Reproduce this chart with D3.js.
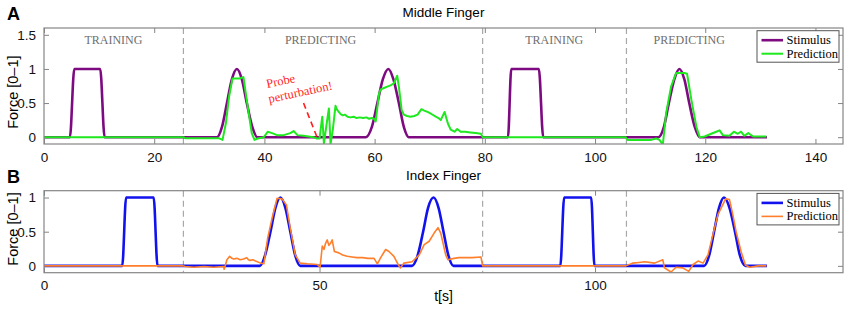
<!DOCTYPE html>
<html>
<head>
<meta charset="utf-8">
<script src="https://cdn.jsdelivr.net/npm/d3@7"></script>
<style>
  html, body { margin: 0; padding: 0; background: #fff; }
  svg { display: block; }
</style>
</head>
<body>
<svg id="chart" width="850" height="311"></svg>
<script>
// time range and phase markers (seconds)
const timeDomain = [0, 145];
const phaseBounds = [25.3, 79.6, 105.7];
const phaseNames = ["TRAINING", "PREDICTING", "TRAINING", "PREDICTING"];
const phaseCenters = [12.6, 50.2, 92.6, 117.1];

const topXTicks = [0, 20, 40, 60, 80, 100, 120, 140];
const topYTicks = [0, 0.5, 1, 1.5];
const bottomXTicks = [0, 50, 100];
const bottomYTicks = [0, 0.5, 1];

// [t, force]
const middleStimulus = [[0,0],[4.7,0],[5.5,1],[10.2,1],[11,0],
  [31.4,0],[32.3,0.15],[33.2,0.5],[34.1,0.85],[35,1],[35.9,0.85],[36.8,0.5],[37.8,0.15],[38.7,0],
  [58.4,0],[59.5,0.15],[60.5,0.5],[61.5,0.85],[62.5,1],[63.4,0.85],[64.4,0.5],[65.3,0.15],[66.2,0],
  [84.2,0],[84.8,1],[89.8,1],[90.6,0],
  [111.5,0],[112.5,0.15],[113.4,0.5],[114.4,0.85],[115.3,1],[116.2,0.85],[117.1,0.5],[118.1,0.15],[119,0],[131.2,0]];

const middlePrediction = [[0,0],[25.3,0],[25.6,-0.015],[31.7,-0.015],[32.4,-0.04],[33.0,0.2],[33.6,0.6],
  [34.2,0.86],[35.5,0.86],[36.2,0.88],[36.8,0.54],[37.7,0.06],[38.2,-0.04],[38.8,-0.02],[39.9,0],
  [40.6,0.08],[41.4,0.06],[42.3,0.03],[43.5,0.03],[44.7,0.06],[45.3,0.09],[46.0,0.03],[47.1,0.02],
  [48.9,0],[49.5,-0.02],[50.0,-0.02],[50.5,0.3],[50.8,-0.09],[51.3,0.2],[51.7,0.42],[52.0,-0.1],
  [52.4,0.1],[52.9,0.46],[53.2,0.4],[53.8,0.34],[54.2,0.32],[54.6,0.33],[55.1,0.3],[55.6,0.29],
  [56.2,0.3],[56.7,0.28],[57.3,0.29],[57.9,0.28],[58.5,0.29],[59.0,0.27],[59.5,0.28],[59.9,0.27],
  [60.2,0.23],[60.8,0.64],[61.1,0.7],[61.7,0.72],[62.3,0.74],[62.9,0.76],[63.5,0.79],[64.1,0.9],
  [64.4,0.74],[64.9,0.4],[65.3,0.33],[65.9,0.31],[66.5,0.3],[67.2,0.31],[67.8,0.33],[68.5,0.41],
  [69.0,0.39],[69.6,0.37],[70.3,0.34],[71.1,0.3],[71.6,0.28],[72.0,0.25],[72.7,0.37],[73.3,0.2],
  [73.8,0.11],[74.5,0.08],[75.0,0.12],[75.6,0.08],[76.4,0.08],[77.4,0.07],[78.3,0.06],[79.3,0.05],
  [79.6,0],[105.6,0],[105.9,-0.04],[110.2,-0.04],[111.1,-0.02],[111.7,-0.04],[112.3,-0.11],
  [112.9,0.35],[113.8,0.74],[114.7,0.94],[116.2,0.94],[116.7,0.93],[117.5,0.54],[118.4,0.15],[119.0,0],
  [119.9,0.01],[121.1,0.05],[122.0,0.08],[122.6,0.1],[123.2,0.03],[124.4,0.02],[125.2,0.08],[125.9,0.05],
  [126.5,0.08],[127.1,0.02],[127.8,0.06],[128.7,0.01],[131.1,0.01]];

const indexStimulus = [[0,0],[14.2,0],[14.9,1],[19.9,1],[20.6,0],
  [39.2,0],[40.1,0.15],[41.1,0.5],[42,0.85],[42.9,1],[43.8,0.85],[44.7,0.5],[45.6,0.15],[46.5,0],
  [66.8,0],[67.8,0.15],[68.8,0.5],[69.7,0.85],[70.7,1],[71.6,0.85],[72.5,0.5],[73.4,0.15],[74.3,0],
  [93.7,0],[94.4,1],[99.3,1],[99.9,0],
  [119.8,0],[120.7,0.15],[121.6,0.5],[122.5,0.85],[123.4,1],[124.4,0.85],[125.4,0.5],[126.3,0.15],[127.3,0],[131.2,0]];

const indexPrediction = [[0,0],[25.3,0],[25.6,-0.01],[27.2,-0.02],[29,-0.01],[30.8,-0.02],[32.6,-0.01],
  [32.7,-0.05],[33.2,0.09],[33.7,0.14],[34.1,0.11],[34.4,0.1],[35.0,0.11],[35.6,0.09],[36.2,0.1],
  [36.8,0.12],[37.1,0.09],[37.4,0.08],[37.9,0.09],[38.4,0.07],[39.3,0.04],[39.9,0.03],[40.6,0.41],
  [41.4,0.7],[42.3,0.99],[43.2,0.98],[44.0,0.89],[44.7,0.55],[45.6,0.16],[46.5,0.04],[47.8,0.03],
  [49.6,0.02],[50.1,-0.02],[50.5,0.29],[50.8,0.24],[51.1,0.33],[51.4,0.38],[51.7,0.3],[52.0,0.33],
  [52.3,0.38],[52.7,0.21],[53.5,0.19],[54.2,0.16],[55.0,0.14],[55.9,0.13],[56.8,0.12],[57.8,0.12],
  [58.8,0.11],[59.9,0.11],[60.5,0.03],[61.1,0.12],[62.0,0.24],[62.6,0.21],[63.5,0.14],[64.4,0],
  [64.7,-0.03],[65.3,0.04],[66.8,0.06],[68.1,0.16],[69.0,0.31],[69.9,0.36],[70.8,0.48],[71.5,0.56],
  [72.0,0.48],[72.9,0.16],[73.3,0.09],[74.4,0.11],[75.3,0.12],[76.2,0.12],[77.7,0.12],[79.3,0.13],
  [79.6,0],[105.6,0],[106.8,0.04],[108.0,0.05],[109.0,0.06],[110.8,0.04],[112.3,0.09],[112.6,-0.03],
  [113.8,-0.09],[114.7,-0.02],[115.9,-0.03],[117.0,-0.08],[117.8,0.02],[118.7,0.07],[119.6,0.04],
  [120.5,0.16],[121.4,0.46],[122.3,0.75],[123.7,0.98],[124.4,0.97],[125.0,0.75],[125.6,0.5],
  [126.5,0.21],[127.3,0.01],[128.1,-0.02],[129.6,0],[131.1,0]];

const sansFont = "'Liberation Sans', Arial, Helvetica, sans-serif";
const serifFont = "'Liberation Serif', 'Times New Roman', serif";
const boxColor = "#858585";

const panels = [
  {
    id: "top", letter: "A", title: "Middle Finger",
    top: 28, bottom: 144, yDomain: [-0.1, 1.6],
    xTicks: topXTicks, yTicks: topYTicks, labelCenter: 0.66,
    stim: middleStimulus, pred: middlePrediction,
    stimColor: "#7d0a80", predColor: "#1ee81e", predWidth: 2,
    showPhases: true, xLabel: null
  },
  {
    id: "bottom", letter: "B", title: "Index Finger",
    top: 190.7, bottom: 272.7, yDomain: [-0.1, 1.1],
    xTicks: bottomXTicks, yTicks: bottomYTicks, labelCenter: 0.54,
    stim: indexStimulus, pred: indexPrediction,
    stimColor: "#1212ee", predColor: "#ff7f2a", predWidth: 1.6,
    showPhases: false, xLabel: "t[s]"
  }
];

const left = 44, right = 843;
const svg = d3.select("#chart");

panels.forEach(p => {
  const x = d3.scaleLinear().domain(timeDomain).range([left, right]);
  const y = d3.scaleLinear().domain(p.yDomain).range([p.bottom, p.top]);
  const g = svg.append("g");

  g.append("clipPath").attr("id", "clip-" + p.id)
    .append("rect")
    .attr("x", left).attr("y", p.top)
    .attr("width", right - left).attr("height", p.bottom - p.top);

  // phase separators
  g.selectAll(".phase")
    .data(phaseBounds)
    .enter().append("line")
    .attr("x1", d => x(d)).attr("x2", d => x(d))
    .attr("y1", p.top).attr("y2", p.bottom)
    .attr("stroke", "#a8a8a8")
    .attr("stroke-width", 1.2)
    .attr("stroke-dasharray", "6,4");

  if (p.showPhases) {
    g.selectAll(".phase-label")
      .data(phaseNames)
      .enter().append("text")
      .attr("x", (d, i) => x(phaseCenters[i]))
      .attr("y", p.top + 15.5)
      .attr("text-anchor", "middle")
      .style("font-family", serifFont)
      .style("font-size", "12px")
      .style("fill", "#6e6e6e")
      .text(d => d);
  }

  // axes: labelled bottom/left, tick-only top/right, ticks pointing inward
  const axes = [
    { axis: d3.axisBottom(x).tickValues(p.xTicks), t: `translate(0,${p.bottom})` },
    { axis: d3.axisTop(x).tickValues(p.xTicks).tickFormat(""), t: `translate(0,${p.top})` },
    { axis: d3.axisLeft(y).tickValues(p.yTicks).tickFormat(d3.format("")), t: `translate(${left},0)` },
    { axis: d3.axisRight(y).tickValues(p.yTicks).tickFormat(""), t: `translate(${right},0)` }
  ];
  axes.forEach(a => {
    const ag = g.append("g")
      .attr("transform", a.t)
      .call(a.axis.tickSizeInner(-5).tickSizeOuter(0).tickPadding(8));
    ag.select(".domain").remove();
    ag.selectAll("line").attr("stroke", boxColor);
    ag.selectAll("text")
      .style("font-family", sansFont)
      .style("font-size", "13.5px")
      .style("fill", "#111");
  });

  const line = d3.line().x(d => x(d[0])).y(d => y(d[1]));

  g.append("path")
    .datum(p.stim)
    .attr("clip-path", `url(#clip-${p.id})`)
    .attr("d", line.curve(d3.curveMonotoneX))
    .attr("fill", "none")
    .attr("stroke", p.stimColor)
    .attr("stroke-width", 2.6)
    .attr("stroke-linejoin", "round");

  g.append("path")
    .datum(p.pred)
    .attr("clip-path", `url(#clip-${p.id})`)
    .attr("d", line.curve(d3.curveLinear))
    .attr("fill", "none")
    .attr("stroke", p.predColor)
    .attr("stroke-width", p.predWidth)
    .attr("stroke-linejoin", "round");

  // box
  g.append("rect")
    .attr("x", left).attr("y", p.top)
    .attr("width", right - left).attr("height", p.bottom - p.top)
    .attr("fill", "none")
    .attr("stroke", boxColor)
    .attr("stroke-width", 1.2);

  g.append("text")
    .attr("x", (left + right) / 2)
    .attr("y", p.top - 11)
    .attr("text-anchor", "middle")
    .style("font-family", sansFont)
    .style("font-size", "13.5px")
    .text(p.title);

  g.append("text")
    .attr("x", 7)
    .attr("y", p.top - 8)
    .style("font-family", sansFont)
    .style("font-size", "18px")
    .style("font-weight", "bold")
    .text(p.letter);

  g.append("text")
    .attr("transform", `translate(18,${y(p.labelCenter)}) rotate(-90)`)
    .attr("text-anchor", "middle")
    .style("font-family", sansFont)
    .style("font-size", "14.5px")
    .text("Force [0\u20131]");

  if (p.xLabel) {
    g.append("text")
      .attr("x", (left + right) / 2)
      .attr("y", p.bottom + 28.5)
      .attr("text-anchor", "middle")
      .style("font-family", sansFont)
      .style("font-size", "14px")
      .text(p.xLabel);
  }

  // legend
  const lg = g.append("g").attr("transform", `translate(757,${p.top + 2.7})`);
  lg.append("rect")
    .attr("width", 82).attr("height", 31.5)
    .attr("fill", "#fff")
    .attr("stroke", "#555")
    .attr("stroke-width", 1);
  const entries = [
    { name: "Stimulus", color: p.stimColor, w: 2.6 },
    { name: "Prediction", color: p.predColor, w: p.predWidth }
  ];
  entries.forEach((e, i) => {
    const cy = 9.5 + i * 13.5;
    lg.append("line")
      .attr("x1", 4.5).attr("x2", 26)
      .attr("y1", cy).attr("y2", cy)
      .attr("stroke", e.color)
      .attr("stroke-width", e.w);
    lg.append("text")
      .attr("x", 29.5).attr("y", cy + 4)
      .style("font-family", serifFont)
      .style("font-size", "12.5px")
      .text(e.name);
  });

  if (p.id === "top") {
    const note = g.append("text")
      .attr("transform", `translate(${x(40.5)},${y(0.72)}) rotate(-12)`)
      .style("font-family", serifFont)
      .style("font-size", "12.5px")
      .style("fill", "#ff1f1f");
    note.append("tspan").attr("x", 0).attr("y", 0).text("Probe");
    note.append("tspan").attr("x", -1).attr("y", 15).text("perturbation!");

    g.append("line")
      .attr("x1", x(47.1)).attr("y1", y(0.5))
      .attr("x2", x(49.6)).attr("y2", y(-0.01))
      .attr("stroke", "#ff1f1f")
      .attr("stroke-width", 1.6)
      .attr("stroke-dasharray", "6,4");
  }
});
</script>
</body>
</html>
